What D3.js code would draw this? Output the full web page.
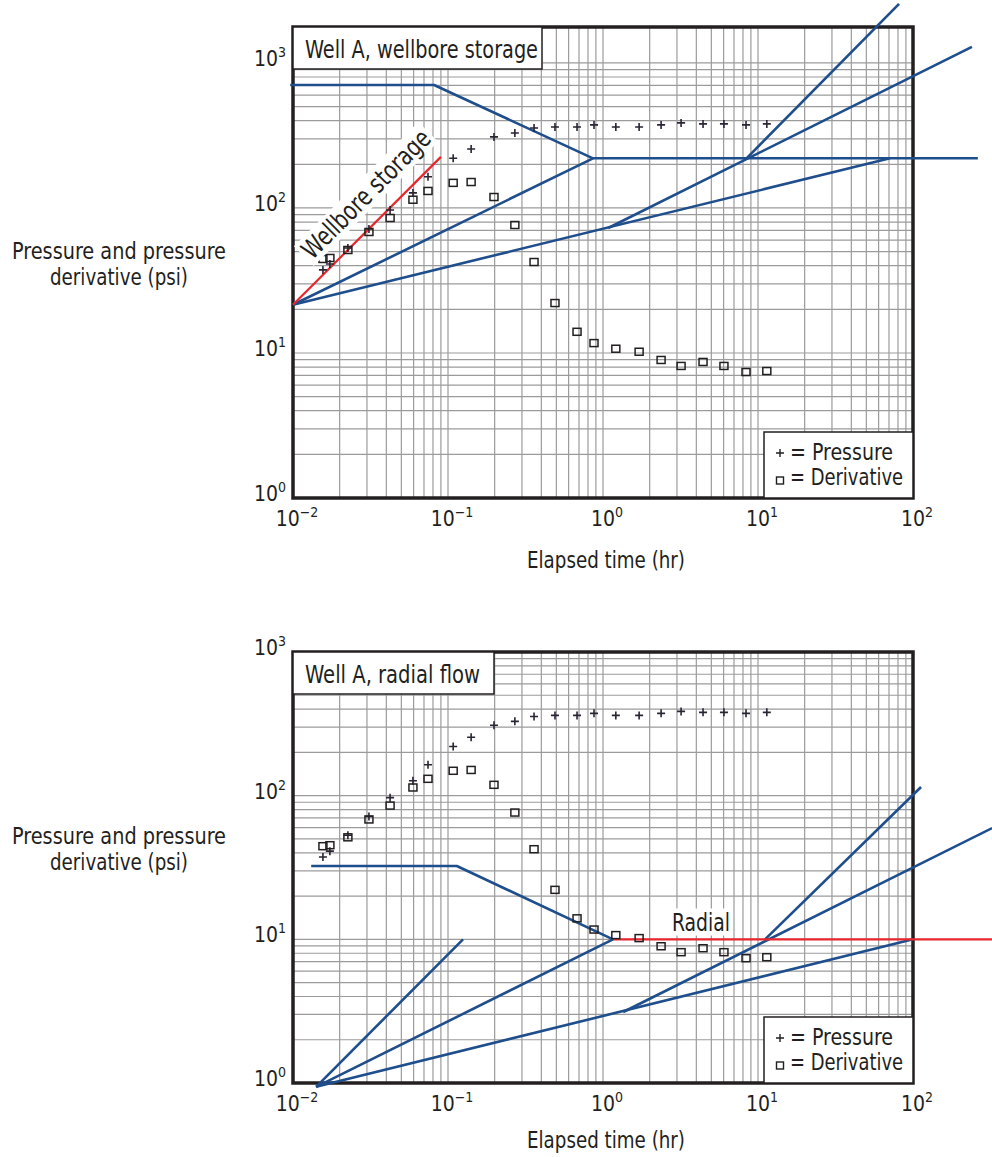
<!DOCTYPE html>
<html>
<head>
<meta charset="utf-8">
<script src="https://cdn.jsdelivr.net/npm/d3@7"></script>
<style>
  body { margin: 0; background: #fff; }
  text { font-family: "Liberation Sans Narrow", "DejaVu Sans Condensed", sans-serif; fill: #231f20; }
</style>
</head>
<body>
<svg id="chart" width="992" height="1157"></svg>
<script>
// test data, same for both panels (hr, psi)
const timeHr = [0.0156, 0.0173, 0.0226, 0.0309, 0.0423, 0.0594, 0.0743, 0.108, 0.141, 0.198, 0.270, 0.359,
                0.490, 0.680, 0.875, 1.21, 1.71, 2.37, 3.19, 4.42, 6.03, 8.37, 11.4];
const pressurePsi = [37.4, 41.1, 53, 71.6, 96.9, 127, 164, 220, 255, 309, 329, 356,
                     362, 362, 374, 362, 362, 374, 386, 380, 380, 374, 380];
const derivativePsi = [44.5, 45.2, 51.3, 68.3, 85.3, 114, 131, 149, 151, 119, 76.3, 42.4,
                       22.1, 14.0, 11.7, 10.7, 10.2, 8.95, 8.14, 8.67, 8.14, 7.39, 7.51];

const xDecades = [0.01, 0.1, 1, 10, 100];
const yDecades = [1, 10, 100, 1000];

// straight-line guides, [hr, psi] end points
const topCapLine = [[0.0096, 705], [0.0813, 705], [0.862, 220], [262, 220]];
const topStorageLine = [[0.01, 21.5], [0.09, 225]];
const topHalfLine = [[0.01, 21.5], [0.862, 220]];
const topQuarterLine = [[0.01, 21.5], [71, 220]];
const topHalfLine2 = [[1.08, 72.8], [240, 1290]];
const topUnitLine = [[8.37, 218], [81.3, 2553]];

const botCapLine = [[0.0131, 32.4], [0.114, 32.4], [1.16, 10]];
const botRadialLine = [[1.16, 10], [324, 10]];
const botUnitLine1 = [[0.0141, 0.94], [0.125, 10]];
const botHalfLine = [[0.0141, 0.94], [1.16, 10]];
const botQuarterLine = [[0.0141, 0.94], [100, 10]];
const botHalfLine2 = [[1.35, 3.12], [324, 59.5]];
const botUnitLine2 = [[11.1, 10], [112.7, 115]];

const blue = "#1f4e8d", red = "#e8262d", gridGray = "#9b9b9b", ink = "#231f20";
const svg = d3.select("#chart");

function powLabel(sel, e) {
  sel.append("tspan").text("10");
  sel.append("tspan").attr("dy", -9).attr("font-size", 14).text(e < 0 ? "\u2212" + (-e) : e);
}

// squeeze text to the width seen in the picture (condensed face)
function fitText(g, str, x, y, w, size, anchor) {
  return g.append("text").attr("x", x).attr("y", y).attr("font-size", size)
    .attr("text-anchor", anchor || "start")
    .attr("textLength", w).attr("lengthAdjust", "spacingAndGlyphs").text(str);
}

function drawPanel(p) {
  const x = d3.scaleLog().domain([0.01, 100]).range([293, 913]);
  const y = d3.scaleLog().domain(p.yDomain).range([p.bottom, p.top]);
  const g = svg.append("g");

  // grid
  const xg = [], yg = [];
  for (let k = -2; k < 2; k++) for (let m = 1; m < 10; m++) xg.push(m * Math.pow(10, k));
  for (let k = 0; k < 3; k++) for (let m = 1; m < 10; m++) yg.push(m * Math.pow(10, k));
  yg.push(1000);
  g.append("g").selectAll("line").data(xg).join("line")
    .attr("x1", d => x(d)).attr("x2", d => x(d))
    .attr("y1", p.top).attr("y2", p.bottom)
    .attr("stroke", gridGray).attr("stroke-width", 1.2);
  g.append("g").selectAll("line").data(yg.filter(d => y(d) >= p.top)).join("line")
    .attr("x1", 293).attr("x2", 913)
    .attr("y1", d => y(d)).attr("y2", d => y(d))
    .attr("stroke", gridGray).attr("stroke-width", 1.2);

  // frame
  g.append("rect").attr("x", 293).attr("y", p.top)
    .attr("width", 620).attr("height", p.bottom - p.top)
    .attr("fill", "none").attr("stroke", ink).attr("stroke-width", 3.5);

  // tick labels
  g.append("g").selectAll("text").data(xDecades).join("text")
    .attr("x", d => x(d) + 4).attr("y", p.bottom + 28)
    .attr("text-anchor", "middle").attr("font-size", 21)
    .each(function (d) { powLabel(d3.select(this), Math.round(Math.log10(d))); });
  g.append("g").selectAll("text").data(yDecades).join("text")
    .attr("x", 286).attr("y", d => y(d) + 3)
    .attr("text-anchor", "end").attr("font-size", 21)
    .each(function (d) { powLabel(d3.select(this), Math.round(Math.log10(d))); });

  // axis titles
  fitText(g, "Pressure and pressure", 119, p.yTitleY, 214, 23, "middle");
  fitText(g, "derivative (psi)", 119, p.yTitleY + 26, 138, 23, "middle");
  fitText(g, "Elapsed time (hr)", 606, p.xTitleY, 158, 23, "middle");

  // guide lines
  const line = d3.line().x(d => x(d[0])).y(d => y(d[1]));
  p.lines.forEach(l => {
    g.append("path").attr("d", line(l.pts)).attr("fill", "none")
      .attr("stroke", l.color).attr("stroke-width", l.color === red ? 2.2 : 2.6)
      .attr("stroke-linejoin", "round");
  });

  // data points
  g.append("g").selectAll("path").data(timeHr).join("path")
    .attr("d", (d, i) => `M${x(d) - 4},${y(pressurePsi[i])}h8M${x(d)},${y(pressurePsi[i]) - 4}v8`)
    .attr("stroke", "#2a2433").attr("stroke-width", 1.6);
  g.append("g").selectAll("rect").data(timeHr).join("rect")
    .attr("x", d => x(d) - 4).attr("y", (d, i) => y(derivativePsi[i]) - 3.5)
    .attr("width", 8).attr("height", 7)
    .attr("fill", "none").attr("stroke", ink).attr("stroke-width", 1.5);

  // title box
  g.append("rect").attr("x", 293).attr("y", p.top)
    .attr("width", p.titleW).attr("height", 42)
    .attr("fill", "#fff").attr("stroke", ink).attr("stroke-width", 1.5);
  fitText(g, p.title, 305, p.top + 31, p.titleTextW, 25);

  // legend
  const ly = p.bottom - 66;
  g.append("rect").attr("x", 764).attr("y", ly).attr("width", 149).attr("height", 66)
    .attr("fill", "#fff").attr("stroke", ink).attr("stroke-width", 1.5);
  g.append("path").attr("d", `M776,${ly + 21}h8M780,${ly + 17}v8`)
    .attr("stroke", ink).attr("stroke-width", 1.4);
  g.append("rect").attr("x", 776.5).attr("y", ly + 45).attr("width", 7).attr("height", 7)
    .attr("fill", "none").attr("stroke", ink).attr("stroke-width", 1.4);
  fitText(g, "= Pressure", 790, ly + 28, 103, 23);
  fitText(g, "= Derivative", 790, ly + 53, 113, 23);

  // annotation
  if (p.note) {
    const n = p.note;
    const t = g.append("text").attr("font-size", n.size).attr("text-anchor", "middle")
      .attr("dominant-baseline", "central")
      .attr("textLength", n.w).attr("lengthAdjust", "spacingAndGlyphs")
      .attr("transform", `translate(${n.x},${n.y}) rotate(${n.angle})`).text(n.text);
    const bb = t.node().getBBox();
    g.insert("rect", function () { return t.node(); })
      .attr("x", bb.x - 3).attr("y", bb.y + 1).attr("width", bb.width + 6).attr("height", bb.height - 2)
      .attr("transform", `translate(${n.x},${n.y}) rotate(${n.angle})`)
      .attr("fill", "#fff");
  }
}

drawPanel({
  top: 27, bottom: 498, yDomain: [1, 1770], yTitleY: 259, xTitleY: 568,
  title: "Well A, wellbore storage", titleW: 249, titleTextW: 233,
  lines: [
    { pts: topCapLine, color: blue }, { pts: topHalfLine, color: blue },
    { pts: topQuarterLine, color: blue }, { pts: topHalfLine2, color: blue },
    { pts: topUnitLine, color: blue }, { pts: topStorageLine, color: red }
  ],
  note: { text: "Wellbore storage", x: 366, y: 194, angle: -45, size: 26, w: 170 }
});

drawPanel({
  top: 652, bottom: 1083, yDomain: [1, 1000], yTitleY: 844, xTitleY: 1148,
  title: "Well A, radial flow", titleW: 201, titleTextW: 175,
  lines: [
    { pts: botCapLine, color: blue }, { pts: botUnitLine1, color: blue },
    { pts: botHalfLine, color: blue }, { pts: botQuarterLine, color: blue },
    { pts: botHalfLine2, color: blue }, { pts: botUnitLine2, color: blue },
    { pts: botRadialLine, color: red }
  ],
  note: { text: "Radial", x: 701, y: 922, angle: 0, size: 25, w: 58 }
});
</script>
</body>
</html>
